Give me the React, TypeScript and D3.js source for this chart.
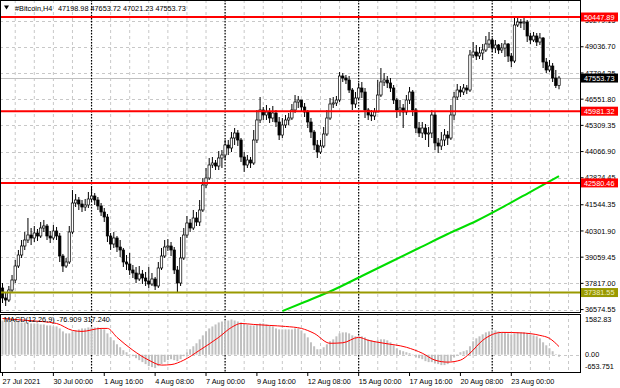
import React from "react";
import * as d3 from "d3";

const firstOpen = 37597;
const closes = [37123,37028,37502,37976,38640,39162,39589,39873,40110,39968,
40205,40063,40442,40537,40063,39968,40300,40063,39114,38640,
38830,40253,41628,41770,41580,41438,41533,41818,41960,41770,
41486,41201,40964,40063,39684,39968,39541,39399,38830,38735,
38451,38308,38024,38261,38071,37929,37787,38024,37692,38546,
39114,39541,39589,39399,38451,37834,39020,40110,40679,40442,
40916,40727,41296,42481,42813,43430,43525,43382,43762,43904,
44378,44236,44710,44947,44615,43809,43430,43667,43525,44615,
45564,46038,45801,45943,45658,45896,45469,44852,45327,45564,
45658,46038,46417,46512,46180,45943,45469,44994,44378,44046,
44331,44900,45658,46322,46370,46512,47650,47555,47460,46986,
46322,46607,47081,46891,46038,45801,45753,45943,46749,47366,
47460,47318,47081,46512,46038,46133,45943,46512,46891,46038,
45184,44947,45184,44900,44947,45801,44473,44331,44615,44852,
44710,45801,46654,46986,46891,47081,46986,48646,48788,48598,
48741,48883,49168,49357,48978,49120,48883,48978,49168,48598,
48361,50069,50211,50163,50211,49547,49357,49547,49262,49452,
48314,47935,48124,47555,47198.98,47553.73];
const highs = [37834,37407,37692,38214,38925,39399,39873,40253,40916,40442,
40537,40395,40727,40822,40632,40300,40585,40490,40205,39211,
39020,40537,42244,42054,41912,41770,41818,42149,42386,42101,
41912,41628,41391,41106,40205,40253,40063,39873,39494,39162,
39257,38688,38593,38640,38451,38356,38593,38308,38119,38830,
39494,39873,39921,39778,39541,38640,40015,40442,41011,40869,
41296,41201,41770,42813,43288,43762,43809,43667,44093,44141,
44615,44615,44994,45184,45089,44710,44046,43904,43809,45089,
46038,46654,46180,46275,46133,46228,46038,45706,45658,45801,
45896,46322,46749,46702,46512,46370,46038,45658,45089,44615,
44615,45232,46038,46607,46654,46702,47840,47792,47698,47650,
47081,46891,47318,47366,47081,46133,46038,46133,47460,48029,
47792,47650,47555,47223,46607,46512,46322,46749,47129,46986,
46133,45469,45469,45374,45232,46038,45943,44710,44994,45137,
45042,46275,46891,47271,47176,47271,47223,48883,49262,49120,
49025,49168,49547,49737,49452,49357,49168,49215,49357,49215,
48741,50400,50400,50353,50400,50306,49689,49737,49689,49689,
49499,48504,48409,48267,47935,47653.72];
const lows = [36885,36743,36933,37360,37834,38546,39020,39399,39731,39636,
39778,39826,39968,40253,39873,39731,39873,39873,38830,38356,
38546,38735,40158,41438,41296,41201,41249,41391,41675,41533,
41296,41011,40727,39778,39399,39494,39304,39067,38593,38451,
38214,38071,37834,37929,37787,37692,37597,37692,37502,37597,
38451,39020,39352,39114,38261,37360,37692,38925,39968,40253,
40347,40537,40537,41201,42339,42718,43288,43193,43193,43288,
43667,43904,44046,44378,44331,43572,43098,43288,43288,43430,
44473,45421,45564,45564,45421,45469,45232,44615,44710,45184,
45327,45564,45896,46133,45943,45706,45184,44710,44141,43762,
43951,44236,44805,45564,46133,46228,46417,47366,47271,46844,
46038,46133,46512,46607,45658,45564,45516,45564,45943,46654,
47176,47081,46891,46322,45658,45753,45184,45801,46322,45753,
44947,44757,44710,44615,44283,44710,44141,43999,44141,44331,
44378,44615,45564,46512,46654,46749,46796,46891,48504,48409,
48456,48409,48788,48978,48788,48741,48693,48741,48551,48314,
48077,48267,49974,49926,49831,49262,49168,49262,49073,49120,
48029,47792,47840,47366,47081,47021.23];
const macd = [1331,1331,1292,1292,1292,1292,1254,1254,1254,1215,
1215,1215,1176,1176,1138,1138,1099,1099,1022,906,
829,829,906,945,984,1022,1022,1061,1061,1061,
1061,1022,984,829,675,559,405,289,174,96,
19,-58,-135,-212,-289,-366,-444,-482,-521,-444,
-366,-289,-212,-174,-212,-251,-174,-58,96,212,
328,444,598,752,906,1022,1099,1176,1254,1292,
1331,1331,1369,1331,1292,1254,1215,1176,1138,1138,
1176,1215,1215,1176,1138,1099,1022,984,984,984,
984,984,1022,1022,945,829,675,482,328,212,
212,289,405,521,598,714,829,868,868,829,
752,714,714,714,675,598,559,521,559,598,
598,559,482,366,251,174,135,96,58,-19,
-96,-135,-174,-251,-289,-289,-328,-366,-405,-405,
-366,-251,-96,19,96,135,174,328,521,636,
714,791,868,906,945,945,906,868,868,829,
791,829,868,868,868,829,791,752,714,636,
482,366,251,135,19,-76.909];
const signalPts: [number, number][] = [[0,1408],[8,1331],[17,1215],[22,945],[25,906],[31,1022],[33,1022],[36,675],[41,174],[46,-212],[50,-405],[53,-386],[57,-212],[62,174],[68,675],[72,1061],[75,1215],[79,1176],[84,1138],[89,1099],[94,1022],[98,829],[103,444],[107,463],[112,675],[115,559],[120,444],[127,289],[132,58],[136,-212],[140,-289],[144,-212],[147,58],[151,559],[155,829],[157,868],[163,849],[169,752],[172,636],[175,317.24]];
const maPts: [number, number][] = [[88,36500],[95,36933],[104,37502],[113,38166],[122,38830],[131,39494],[140,40158],[149,40774],[158,41486],[167,42244],[175,42908]];

const redLevels = [50447.89, 45981.32, 42580.46];
const oliveLevel = 37381.55;
const priceTicks = ["50279.15","49036.70","47794.25","46551.80","45309.35","44066.90","42824.45","41544.35","40301.90","39059.45","37817.00","36574.55"];
const timeLabels = ["27 Jul 2021","30 Jul 00:00","1 Aug 16:00","4 Aug 08:00","7 Aug 00:00","9 Aug 16:00","12 Aug 08:00","15 Aug 00:00","17 Aug 16:00","20 Aug 08:00","23 Aug 00:00"];
const timeLabelBars = [0,16,32,48,64,80,96,112,128,144,160];
const separatorBars = [28,70,112,154];
const headerValues = ["47198.98","47653.72","47021.23","47553.73"];
const macdHeader = "MACD(12,26,9) -76.909 317.240";
const macdTicks = ["1582.83","0.00","-653.751"];

const FONT = "'Liberation Sans', Arial, sans-serif";
const FS = 7.3;

export default function App() {
  const n = closes.length;
  const x = d3.scaleLinear().domain([0, n - 1]).range([2.5, 2.5 + (n - 1) * 3.18]);
  const y = d3.scaleLinear().domain([36459, 51207]).range([312, 1]);
  const ym = d3.scaleLinear().domain([-653.751, 1582.83]).range([371.5, 314]);
  const opens = closes.map((c, i) => (i === 0 ? firstOpen : closes[i - 1]));
  const right = 580.5;
  const gridBars = d3.range(4, n + 12, 6);

  const sigLine = d3.line<[number, number]>().x(d => x(d[0])).y(d => ym(d[1])).curve(d3.curveMonotoneX)(signalPts) || "";
  const maLine = d3.line<[number, number]>().x(d => x(d[0])).y(d => y(d[1])).curve(d3.curveMonotoneX)(maPts) || "";
  const last = closes[n - 1];

  return (
    <svg width={620} height={388} style={{ display: "block", position: "absolute", left: 0, top: 0, background: "#fff" }} fontFamily={FONT}>
      <defs>
        <clipPath id="cmain"><rect x={1} y={1} width={right - 1.5} height={311} /></clipPath>
        <clipPath id="cmacd"><rect x={1} y={315} width={right - 1.5} height={57} /></clipPath>
      </defs>
      <rect x={0} y={0} width={620} height={388} fill="#fff" />
      {/* grids main */}
      <g clipPath="url(#cmain)">
        {gridBars.map(b => (
          <line key={"gv" + b} x1={x(b)} x2={x(b)} y1={0} y2={313} stroke="#c8c8c8" strokeDasharray="3,3" strokeWidth={1} />
        ))}
        {priceTicks.map(t => (
          <line key={"gh" + t} x1={0} x2={right} y1={Math.round(y(+t)) + 0.5} y2={Math.round(y(+t)) + 0.5} stroke="#c8c8c8" strokeDasharray="3,3" strokeWidth={1} />
        ))}
        <line x1={0} x2={right} y1={Math.round(y(last)) + 0.5} y2={Math.round(y(last)) + 0.5} stroke="#c0c0c0" strokeWidth={1} />
        {separatorBars.map(b => (
          <line key={"sp" + b} x1={x(b)} x2={x(b)} y1={0} y2={313} stroke="#000" strokeDasharray="1.5,1.5" strokeWidth={1.2} />
        ))}
        {/* candles */}
        {closes.map((c, i) => {
          const o = opens[i];
          const bull = c >= o;
          const cx = x(i);
          const top = y(Math.max(o, c));
          const bot = y(Math.min(o, c));
          return (
            <g key={"c" + i}>
              <line x1={cx} x2={cx} y1={y(highs[i])} y2={y(lows[i])} stroke="#000" strokeWidth={1} />
              <rect x={cx - 1.2} y={top} width={2.4} height={Math.max(bot - top, 0.8)} fill={bull ? "#fff" : "#000"} stroke="#000" strokeWidth={0.7} />
            </g>
          );
        })}
        <path d={maLine} fill="none" stroke="#00dd00" strokeWidth={2} />
        {redLevels.map(l => (
          <line key={"rl" + l} x1={0} x2={right} y1={y(l)} y2={y(l)} stroke="#ff0000" strokeWidth={2} />
        ))}
        <line x1={0} x2={right} y1={y(oliveLevel)} y2={y(oliveLevel)} stroke="#999900" strokeWidth={2} />
      </g>
      {/* MACD panel */}
      <g clipPath="url(#cmacd)">
        {gridBars.map(b => (
          <line key={"mgv" + b} x1={x(b)} x2={x(b)} y1={313} y2={373} stroke="#c8c8c8" strokeDasharray="3,3" strokeWidth={1} />
        ))}
        <line x1={0} x2={right} y1={Math.round(ym(0)) + 0.5} y2={Math.round(ym(0)) + 0.5} stroke="#c8c8c8" strokeDasharray="3,3" />
        {separatorBars.map(b => (
          <line key={"msp" + b} x1={x(b)} x2={x(b)} y1={313} y2={373} stroke="#000" strokeDasharray="1.5,1.5" strokeWidth={1.2} />
        ))}
        {macd.map((v, i) => (
          <rect key={"h" + i} x={x(i) - 1} y={Math.min(ym(v), ym(0))} width={2} height={Math.abs(ym(v) - ym(0))} fill="#c0c0c0" />
        ))}
        <path d={sigLine} fill="none" stroke="#ff0000" strokeWidth={1} />
      </g>
      {/* borders */}
      <rect x={0.5} y={0.5} width={right - 0.5} height={312} fill="none" stroke="#000" strokeWidth={1} />
      <rect x={0.5} y={314.5} width={right - 0.5} height={58} fill="none" stroke="#000" strokeWidth={1} />
      {/* header */}
      <path d="M4,5.5 L9,5.5 L6.5,9.5 Z" fill="#000" />
      <text x={15} y={11} fontSize={FS} fill="#000">#Bitcoin,H4</text>
      <text x={58} y={11} fontSize={FS} fill="#000">{headerValues.join(" ")}</text>
      <text x={4} y={322} fontSize={FS} fill="#000">{macdHeader}</text>
      {/* right price axis */}
      {priceTicks.map(t => (
        <g key={"pt" + t}>
          <line x1={right} x2={right + 3} y1={y(+t)} y2={y(+t)} stroke="#000" />
          <text x={585} y={y(+t) + 2.6} fontSize={FS} fill="#000">{t}</text>
        </g>
      ))}
      {redLevels.map(l => (
        <g key={"rb" + l}>
          <rect x={581} y={y(l) - 4.5} width={37} height={9} fill="#ff0000" />
          <text x={584} y={y(l) + 2.6} fontSize={FS} fill="#fff">{l.toFixed(2)}</text>
        </g>
      ))}
      <rect x={581} y={y(oliveLevel) - 4.5} width={37} height={9} fill="#999900" />
      <text x={584} y={y(oliveLevel) + 2.6} fontSize={FS} fill="#f0f0c0">{oliveLevel.toFixed(2)}</text>
      <rect x={581} y={y(last) - 4.5} width={37} height={9} fill="#000" />
      <text x={584} y={y(last) + 2.6} fontSize={FS} fill="#fff">{last.toFixed(2)}</text>
      {/* macd axis */}
      <text x={585} y={322} fontSize={FS} fill="#000">{macdTicks[0]}</text>
      <text x={585} y={ym(0) + 2.6} fontSize={FS} fill="#000">{macdTicks[1]}</text>
      <text x={585} y={369} fontSize={FS} fill="#000">{macdTicks[2]}</text>
      {/* time axis */}
      {timeLabels.map((t, k) => (
        <g key={"tl" + t}>
          <line x1={x(timeLabelBars[k])} x2={x(timeLabelBars[k])} y1={373} y2={376} stroke="#000" />
          <text x={x(timeLabelBars[k])} y={384} fontSize={FS} fill="#000">{t}</text>
        </g>
      ))}
    </svg>
  );
}
